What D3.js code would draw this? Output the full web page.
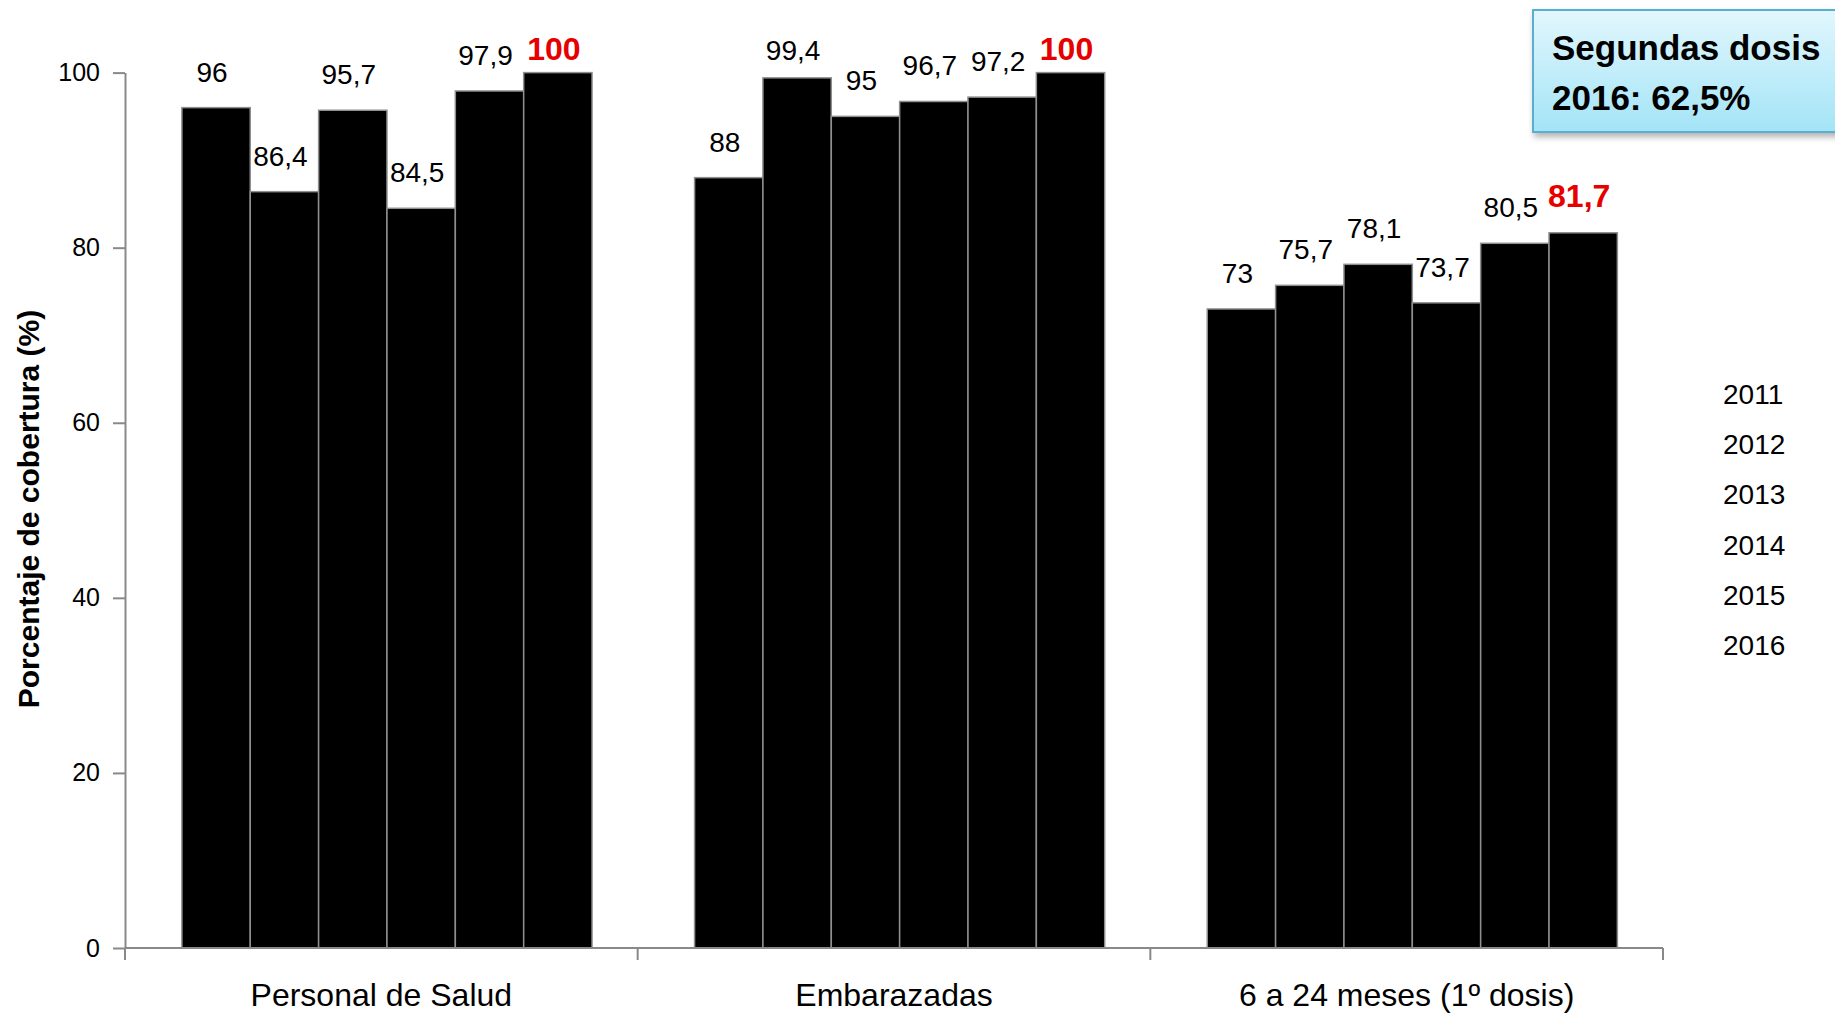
<!DOCTYPE html>
<html lang="es">
<head>
<meta charset="UTF-8">
<title>Cobertura</title>
<script src="https://d3js.org/d3.v7.min.js"></script>
<style>
  body { margin: 0; background: #fff; }
  svg { display: block; font-family: "Liberation Sans", Arial, sans-serif; }
</style>
</head>
<body>
<svg id="chart"></svg>
<script>
// datos
const categories = ["Personal de Salud", "Embarazadas", "6 a 24 meses (1º dosis)"];
const years = ["2011", "2012", "2013", "2014", "2015", "2016"];
const personalSalud = [96, 86.4, 95.7, 84.5, 97.9, 100];
const embarazadas = [88, 99.4, 95, 96.7, 97.2, 100];
const meses6a24 = [73, 75.7, 78.1, 73.7, 80.5, 81.7];
const yTicks = [0, 20, 40, 60, 80, 100];
const boxLines = ["Segundas dosis", "2016: 62,5%"];
const yTitle = "Porcentaje de cobertura (%)";

const series = [personalSalud, embarazadas, meses6a24];

const width = 1835, height = 1014;
const plotLeft = 125, plotRight = 1663, plotTop = 72.6, plotBottom = 948;
const axisColor = "#898989";

const svg = d3.select("#chart").attr("width", width).attr("height", height);

const x0 = d3.scaleBand().domain(categories).range([plotLeft, plotRight])
    .paddingInner(0.2).paddingOuter(0.1).align(0.555);
const x1 = d3.scaleBand().domain(years).range([0, x0.bandwidth()]);
const y = d3.scaleLinear().domain([0, 100]).range([plotBottom, plotTop]);
const xEdge = d3.scaleLinear().domain([0, categories.length]).range([plotLeft, plotRight]);

const fmt = v => String(v).replace(".", ",");

// barras
const groups = svg.selectAll(".grupo")
    .data(categories)
    .enter().append("g")
    .attr("class", "grupo")
    .attr("transform", c => `translate(${x0(c)},0)`);

groups.selectAll("rect")
    .data((c, i) => series[i].map((v, j) => ({ year: years[j], value: v })))
    .enter().append("rect")
    .attr("x", d => x1(d.year))
    .attr("y", d => y(d.value))
    .attr("width", x1.bandwidth())
    .attr("height", d => y(0) - y(d.value))
    .attr("fill", "#000")
    .attr("stroke", "#8f8f8f")
    .attr("stroke-width", 1.5);

// etiquetas de valores
groups.selectAll("text")
    .data((c, i) => series[i].map((v, j) => ({ year: years[j], value: v })))
    .enter().append("text")
    .attr("x", d => x1(d.year) + x1.bandwidth() / 2 - 4)
    .attr("y", d => Math.max(y(d.value) - 26, 60))
    .attr("text-anchor", "middle")
    .attr("font-size", d => d.year === "2016" ? 32 : 28)
    .attr("font-weight", d => d.year === "2016" ? "bold" : "normal")
    .attr("fill", d => d.year === "2016" ? "#e60000" : "#000")
    .text(d => fmt(d.value));

// eje Y
const yAxis = svg.append("g")
    .attr("transform", `translate(${plotLeft},0)`)
    .call(d3.axisLeft(y).tickValues(yTicks).tickSize(12).tickSizeOuter(0).tickPadding(13));
yAxis.select(".domain").attr("stroke", axisColor).attr("stroke-width", 2);
yAxis.selectAll(".tick line").attr("stroke", axisColor).attr("stroke-width", 2);
yAxis.selectAll(".tick text").attr("font-size", 25).attr("fill", "#000")
    .attr("font-family", "Liberation Sans, Arial, sans-serif");

// eje X
svg.append("line")
    .attr("x1", plotLeft).attr("x2", plotRight)
    .attr("y1", plotBottom).attr("y2", plotBottom)
    .attr("stroke", axisColor).attr("stroke-width", 2);
svg.selectAll(".xtick")
    .data(d3.range(categories.length + 1))
    .enter().append("line")
    .attr("x1", d => xEdge(d)).attr("x2", d => xEdge(d))
    .attr("y1", plotBottom).attr("y2", plotBottom + 12)
    .attr("stroke", axisColor).attr("stroke-width", 2);
svg.selectAll(".xlabel")
    .data(categories)
    .enter().append("text")
    .attr("x", c => xEdge(categories.indexOf(c) + 0.5))
    .attr("y", 1006)
    .attr("text-anchor", "middle")
    .attr("font-size", 32)
    .text(c => c);

// título eje Y
svg.append("text")
    .attr("transform", "translate(39,509) rotate(-90)")
    .attr("text-anchor", "middle")
    .attr("font-size", 30)
    .attr("font-weight", "bold")
    .text(yTitle);

// leyenda (solo texto)
svg.selectAll(".leyenda")
    .data(years)
    .enter().append("text")
    .attr("x", 1723)
    .attr("y", (d, i) => 404 + i * 50.2)
    .attr("font-size", 28)
    .text(d => d);

// cuadro "Segundas dosis"
const defs = svg.append("defs");
const grad = defs.append("linearGradient").attr("id", "caja").attr("x1", 0).attr("y1", 0).attr("x2", 0).attr("y2", 1);
grad.append("stop").attr("offset", "0%").attr("stop-color", "#e2f7fd");
grad.append("stop").attr("offset", "100%").attr("stop-color", "#a3e4f7");
const shadow = defs.append("filter").attr("id", "sombra").attr("x", "-10%").attr("y", "-10%").attr("width", "130%").attr("height", "140%");
shadow.append("feDropShadow").attr("dx", 2).attr("dy", 4).attr("stdDeviation", 3)
    .attr("flood-color", "#000").attr("flood-opacity", 0.3);

svg.append("rect")
    .attr("x", 1533).attr("y", 10)
    .attr("width", 330).attr("height", 122)
    .attr("fill", "url(#caja)")
    .attr("stroke", "#5aaed0").attr("stroke-width", 2)
    .attr("filter", "url(#sombra)");
svg.selectAll(".caja-texto")
    .data(boxLines)
    .enter().append("text")
    .attr("x", 1552)
    .attr("y", (d, i) => 60 + i * 50)
    .attr("font-size", 35)
    .attr("font-weight", "bold")
    .text(d => d);
</script>
</body>
</html>
